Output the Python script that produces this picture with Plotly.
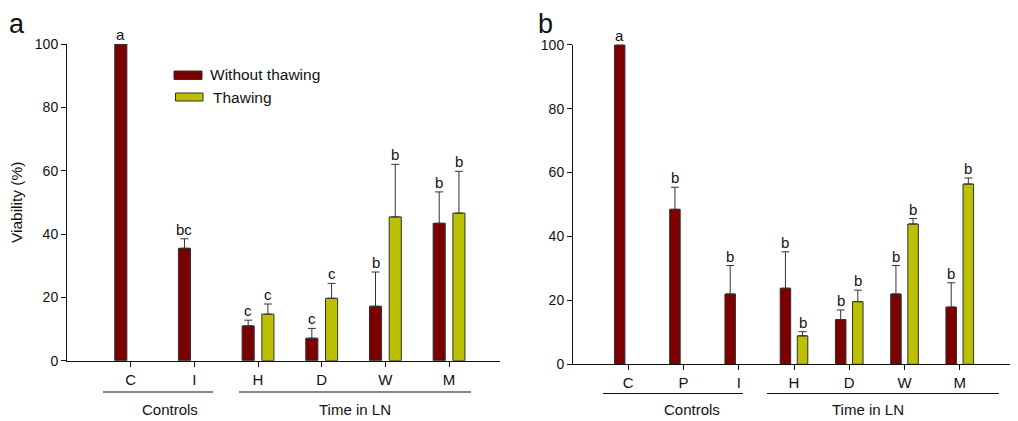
import plotly.graph_objects as go

# ---------------- data ----------------
cats_a = ["C", "I", "H", "D", "W", "M"]
without_a = [100, 35.5, 11.0, 7.1, 17.2, 43.4]
without_err_a = [0, 3.0, 1.8, 3.1, 10.8, 9.9]
without_lbl_a = ["a", "bc", "c", "c", "b", "b"]
thaw_a = [None, None, 14.7, 19.7, 45.4, 46.6]
thaw_err_a = [0, 0, 3.2, 4.7, 16.6, 13.2]
thaw_lbl_a = ["", "", "c", "c", "b", "b"]

cats_b = ["C", "P", "I", "H", "D", "W", "M"]
without_b = [100, 48.5, 22.0, 23.8, 14.0, 22.0, 17.9]
without_err_b = [0, 6.9, 8.9, 11.4, 3.0, 8.9, 7.6]
without_lbl_b = ["a", "b", "b", "b", "b", "b", "b"]
thaw_b = [None, None, None, 8.9, 19.6, 43.9, 56.4]
thaw_err_b = [0, 0, 0, 1.3, 3.6, 1.7, 1.9]
thaw_lbl_b = ["", "", "", "b", "b", "b", "b"]

series_names = ["Without thawing", "Thawing"]
group_names = ["Controls", "Time in LN"]
panel_names = ["a", "b"]
yticks = [0, 20, 40, 60, 80, 100]

RED = "#7d0000"
YEL = "#bcc000"
EDGE = "#303030"
FONT = "Liberation Sans, Arial, sans-serif"
PAGE_OFF = 8            # page body margin
W, H = 1018 - PAGE_OFF, 421 - PAGE_OFF

def px(x):
    return (x - PAGE_OFF) / W

def py(y):
    return (421 - y) / H

fig = go.Figure()

BW = 0.19
OFF = 0.155

def add_panel(cats, wv, we, wl, tv, te, tl, xa, ya):
    xs = list(range(len(cats)))
    fig.add_trace(go.Bar(
        x=xs, y=wv, width=BW, offset=-OFF - BW / 2, name=series_names[0],
        marker=dict(color=RED, line=dict(color=EDGE, width=1)),
        error_y=dict(type="data", symmetric=False, array=we, arrayminus=[0] * len(we),
                     color="#333333", thickness=1, width=4),
        xaxis=xa, yaxis=ya, showlegend=False))
    fig.add_trace(go.Bar(
        x=xs, y=tv, width=BW, offset=OFF - BW / 2, name=series_names[1],
        marker=dict(color=YEL, line=dict(color=EDGE, width=1)),
        error_y=dict(type="data", symmetric=False, array=te, arrayminus=[0] * len(te),
                     color="#333333", thickness=1, width=4),
        xaxis=xa, yaxis=ya, showlegend=False))
    for i in xs:
        if wl[i]:
            fig.add_annotation(x=i - OFF, y=wv[i] + we[i], xref=xa, yref=ya,
                               text=wl[i], showarrow=False, yanchor="bottom", yshift=-1,
                               font=dict(size=15, color="#111", family=FONT))
        if tl[i] and tv[i] is not None:
            fig.add_annotation(x=i + OFF, y=tv[i] + te[i], xref=xa, yref=ya,
                               text=tl[i], showarrow=False, yanchor="bottom", yshift=-1,
                               font=dict(size=15, color="#111", family=FONT))

add_panel(cats_a, without_a, without_err_a, without_lbl_a, thaw_a, thaw_err_a, thaw_lbl_a, "x", "y")
add_panel(cats_b, without_b, without_err_b, without_lbl_b, thaw_b, thaw_err_b, thaw_lbl_b, "x2", "y2")

axis_common = dict(showline=True, linecolor="#111", linewidth=1, ticks="outside",
                   ticklen=5, tickcolor="#111", showgrid=False, zeroline=False,
                   automargin=False)
yfont = dict(size=14, color="#111", family=FONT)
xfont = dict(size=15, color="#111", family=FONT)

fig.update_layout(
    width=W, height=H, margin=dict(l=0, r=0, t=0, b=0, autoexpand=False),
    paper_bgcolor="white", plot_bgcolor="white", barmode="overlay",
    font=dict(family=FONT, color="#111"),
    xaxis=dict(domain=[px(67), px(500)], range=[-1.0, 5.8], tickvals=list(range(len(cats_a))),
               ticktext=cats_a, anchor="y", ticklabelstandoff=0, tickfont=xfont, **axis_common),
    yaxis=dict(domain=[py(360.7), py(44)], range=[0, 100], tickvals=yticks,
               anchor="x", tickfont=yfont,
               title=dict(text="Viability (%)", font=dict(size=15.5, family=FONT), standoff=10),
               **axis_common),
    xaxis2=dict(domain=[px(573), px(1015)], range=[-1.0, 7.0], tickvals=list(range(len(cats_b))),
                ticktext=cats_b, anchor="y2", ticklabelstandoff=0, tickfont=xfont, **axis_common),
    yaxis2=dict(domain=[py(364.3), py(44.7)], range=[0, 100], tickvals=yticks,
                anchor="x2", tickfont=yfont, **axis_common),
)

shapes = []
# group lines
for x0, x1, y in [(103, 213, 392), (239, 471, 392), (603, 743, 393.5), (767, 999, 393.5)]:
    shapes.append(dict(type="line", xref="paper", yref="paper", x0=px(x0), x1=px(x1),
                       y0=py(y), y1=py(y), line=dict(color="#111", width=1)))
# legend boxes
shapes.append(dict(type="rect", xref="paper", yref="paper", x0=px(174), x1=px(202),
                   y0=py(79.5), y1=py(71), fillcolor=RED, line=dict(color=EDGE, width=1)))
shapes.append(dict(type="rect", xref="paper", yref="paper", x0=px(175.5), x1=px(203),
                   y0=py(101), y1=py(93), fillcolor=YEL, line=dict(color=EDGE, width=1)))
fig.update_layout(shapes=shapes)

texts = [
    (group_names[0], 170, 409, 15, "center"),
    (group_names[1], 355, 409, 15, "center"),
    (group_names[0], 692, 409, 15, "center"),
    (group_names[1], 868, 409, 15, "center"),
    (series_names[0], 208, 74, 15.5, "left"),
    (series_names[1], 210.5, 97, 15.5, "left"),
]
for t, x, y, s, al in texts:
    fig.add_annotation(x=px(x), y=py(y), xref="paper", yref="paper", text=t, showarrow=False,
                       xanchor="left" if al == "left" else "center", yanchor="middle",
                       font=dict(size=s, color="#111", family=FONT))

# panel letters, kept inside the figure's top edge
for t, x in [(panel_names[0], 17), (panel_names[1], 545)]:
    fig.add_annotation(x=px(x), y=1.0, xref="paper", yref="paper", text=t, showarrow=False,
                       xanchor="center", yanchor="top", borderpad=0,
                       font=dict(size=27, color="#111", family=FONT))

fig.write_html("out.html")
